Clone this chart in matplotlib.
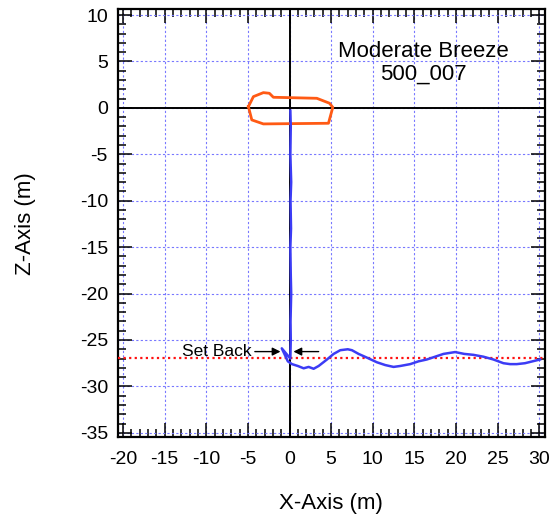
import numpy as np
import matplotlib.pyplot as plt
from matplotlib.ticker import MultipleLocator

plt.rcParams['font.family'] = ['Liberation Sans', 'DejaVu Sans']
plt.rcParams['axes.unicode_minus'] = False

# drift track of the survivor (x, z in metres)
track_x = [0.1, 0.15, 0.1, 0.2, 0.12, 0.18, 0.1, 0.15, 0.2, 0.12, 0.15, 0.1,
           -0.93, -0.2, 0.3, 1.0, 1.7, 2.3, 2.9, 3.5, 4.5, 5.3, 6.1, 7.0, 7.5,
           8.3, 9.3, 10.5, 11.5, 12.5, 13.3, 14.5, 15.5, 16.5, 17.5, 18.5,
           19.9, 21.0, 22.1, 23.3, 24.5, 25.7, 26.5, 27.3, 28.3, 29.2, 30.1]
track_z = [-0.3, -2.0, -5.0, -8.0, -10.0, -13.0, -15.0, -18.0, -20.0, -23.0,
           -25.0, -27.0,
           -25.9, -27.3, -27.6, -27.8, -28.05, -27.9, -28.1, -27.8, -27.1,
           -26.5, -26.1, -26.0, -26.1, -26.5, -26.9, -27.4, -27.7, -27.9,
           -27.8, -27.6, -27.3, -27.1, -26.8, -26.5, -26.3, -26.5, -26.6,
           -26.8, -27.1, -27.5, -27.6, -27.6, -27.5, -27.3, -27.1]

# vessel outline
boat_x = [-4.94, -4.34, -3.14, -2.42, -1.94, 3.28, 4.80, 5.20, 4.68, -3.14, -4.53, -4.94]
boat_z = [0.13, 1.21, 1.64, 1.57, 1.14, 1.03, 0.50, 0.06, -1.66, -1.73, -1.30, 0.13]

setback_z = -26.9
xticks = np.arange(-20, 31, 5)
yticks = np.arange(-35, 11, 5)

fig = plt.figure(figsize=(5.55, 5.24), dpi=100)
ax = fig.add_axes([0.212, 0.166, 0.770, 0.816])

ax.set_xlim(-20.65, 30.7)
ax.set_ylim(-35.45, 10.6)
ax.set_xticks(xticks)
ax.set_yticks(yticks)
ax.xaxis.set_minor_locator(MultipleLocator(1))
ax.yaxis.set_minor_locator(MultipleLocator(1))

ax.grid(True, which='major', color='#7878ff', linestyle=(0, (2, 2)), linewidth=0.8)
ax.axhline(0, color='black', linewidth=1.4, zorder=2)
ax.axvline(0, color='black', linewidth=1.4, zorder=2)
ax.axhline(setback_z, color='#ff1010', linestyle=(0, (1, 1.5)), linewidth=1.6, zorder=3)

ax.plot(boat_x, boat_z, color='#ff5a14', linewidth=2, zorder=4)
ax.plot(track_x, track_z, color='#3c3cf5', linewidth=1.8, zorder=5)

# set back annotation
ax.annotate('Set Back', xy=(-1.08, -26.25), xytext=(-4.5, -26.25),
            fontsize=12.5, ha='right', va='center',
            arrowprops=dict(arrowstyle='-|>', color='black', lw=1.0,
                            mutation_scale=12, shrinkA=0, shrinkB=0))
ax.annotate('', xy=(0.47, -26.25), xytext=(3.5, -26.25),
            arrowprops=dict(arrowstyle='-|>', color='black', lw=1.0,
                            mutation_scale=12, shrinkA=0, shrinkB=0))

ax.text(16.1, 4.8, 'Moderate Breeze\n500_007', fontsize=16, ha='center',
        va='center', linespacing=1.1)

for s in ax.spines.values():
    s.set_linewidth(1.6)
ax.tick_params(which='both', direction='in', top=True, right=True, width=1.1)
ax.tick_params(which='major', length=10, labelsize=14)
ax.tick_params(which='minor', length=5.5)
ax.tick_params(axis='y', which='major', pad=7)
ax.tick_params(axis='x', which='major', pad=10)

ax.set_xlabel('X-Axis (m)', fontsize=16)
ax.set_ylabel('Z-Axis (m)', fontsize=16)
ax.xaxis.set_label_coords(0.5, -0.13)
ax.yaxis.set_label_coords(-0.19, 0.5)

fig.savefig('out.png', dpi=100)
